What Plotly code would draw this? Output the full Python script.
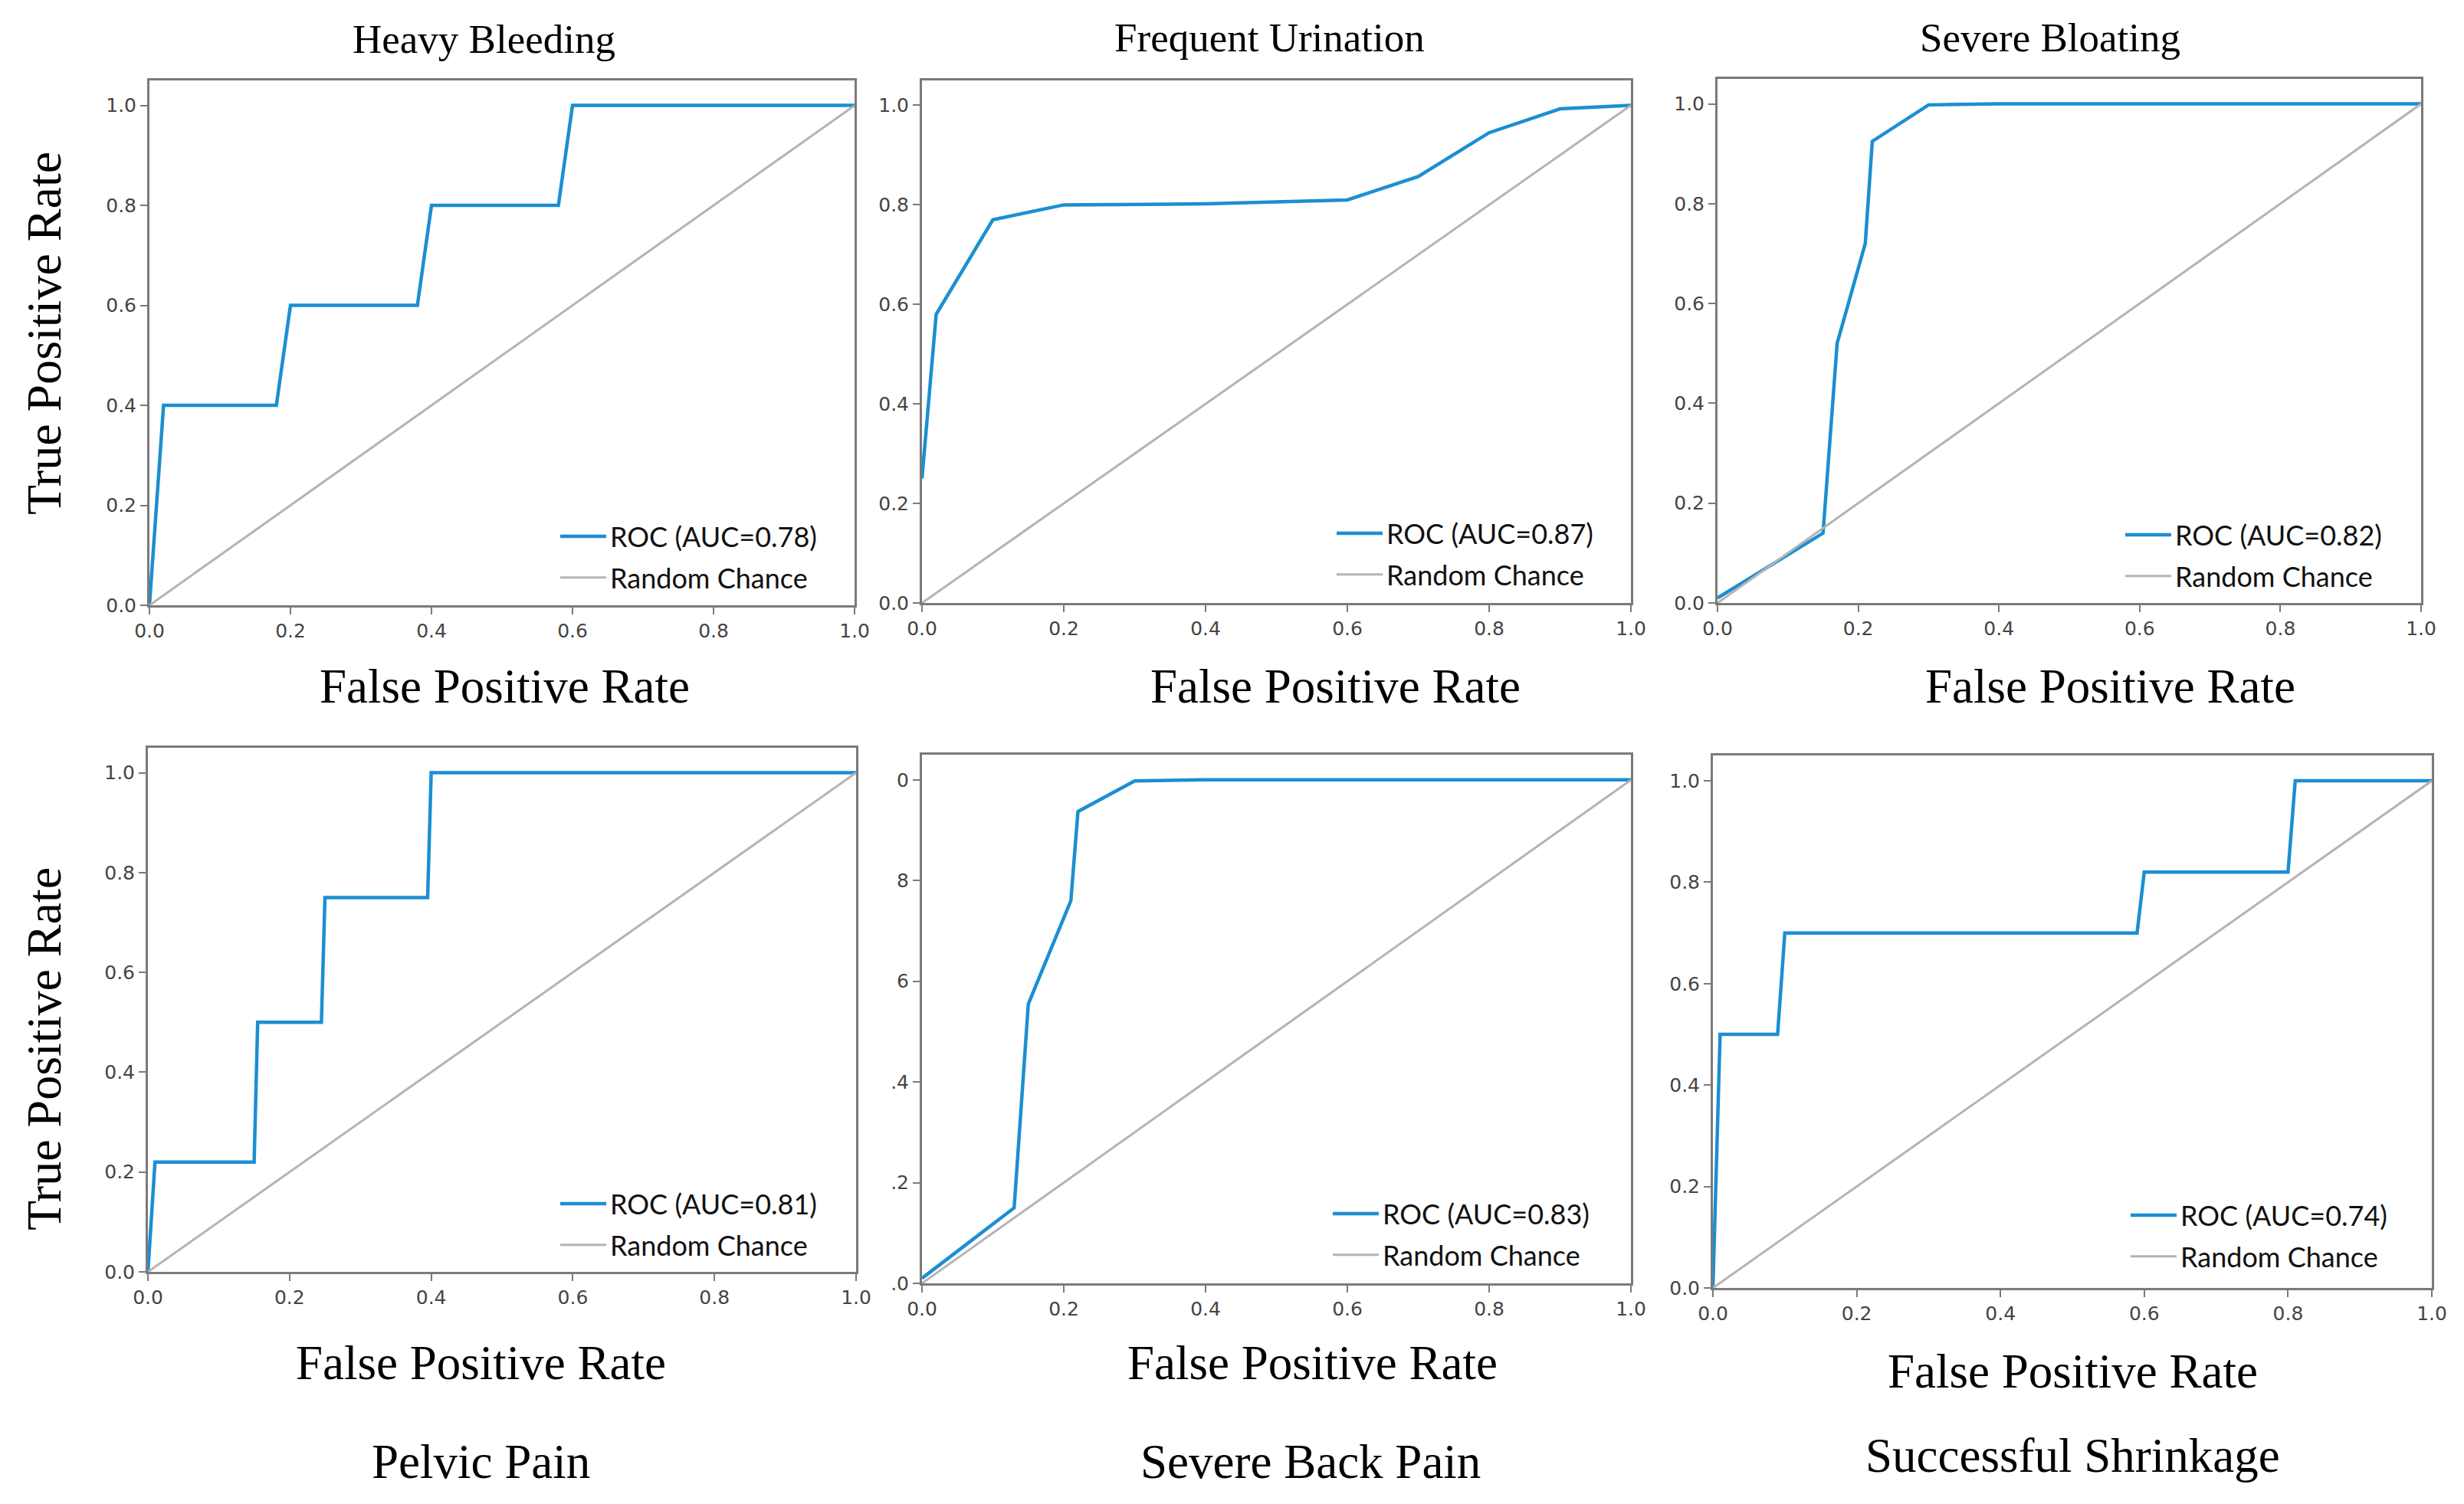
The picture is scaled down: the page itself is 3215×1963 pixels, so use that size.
import plotly.graph_objects as go

W, H = 3215, 1963
PAGE_PAD = 8  # default body margin of the html page

# ROC curves
heavy_fpr = [0.0, 0.02, 0.18, 0.20, 0.38, 0.40, 0.58, 0.60, 1.0]
heavy_tpr = [0.0, 0.40, 0.40, 0.60, 0.60, 0.80, 0.80, 1.00, 1.0]

urin_fpr = [0.0, 0.02, 0.10, 0.20, 0.40, 0.60, 0.70, 0.80, 0.90, 1.0]
urin_tpr = [0.25, 0.58, 0.77, 0.80, 0.802, 0.81, 0.857, 0.945, 0.993, 1.0]

bloat_fpr = [0.0, 0.15, 0.17, 0.21, 0.22, 0.30, 0.40, 1.0]
bloat_tpr = [0.01, 0.14, 0.52, 0.72, 0.925, 0.998, 1.0, 1.0]

pelvic_fpr = [0.0, 0.01, 0.15, 0.155, 0.245, 0.25, 0.395, 0.40, 1.0]
pelvic_tpr = [0.0, 0.22, 0.22, 0.50, 0.50, 0.75, 0.75, 1.00, 1.0]

back_fpr = [0.0, 0.13, 0.15, 0.21, 0.22, 0.30, 0.40, 1.0]
back_tpr = [0.01, 0.15, 0.555, 0.76, 0.937, 0.998, 1.0, 1.0]

shrink_fpr = [0.0, 0.01, 0.09, 0.10, 0.59, 0.60, 0.80, 0.81, 1.0]
shrink_tpr = [0.0, 0.50, 0.50, 0.70, 0.70, 0.82, 0.82, 1.00, 1.0]

chance = [0.0, 1.0]

names = ["Heavy Bleeding", "Frequent Urination", "Severe Bloating",
         "Pelvic Pain", "Severe Back Pain", "Successful Shrinkage"]
aucs = ["0.78", "0.87", "0.82", "0.81", "0.83", "0.74"]
curves = [(heavy_fpr, heavy_tpr), (urin_fpr, urin_tpr), (bloat_fpr, bloat_tpr),
          (pelvic_fpr, pelvic_tpr), (back_fpr, back_tpr), (shrink_fpr, shrink_tpr)]

tick_vals = [0.0, 0.2, 0.4, 0.6, 0.8, 1.0]
tick_text = ["0.0", "0.2", "0.4", "0.6", "0.8", "1.0"]
back_tick_text = [".0", ".2", ".4", "6", "8", "0"]  # clipped labels in the source

# plot boxes in pixels: left, top, right, bottom
boxes = [(195, 105, 1115, 790), (1203, 105, 2128, 787), (2241, 103, 3159, 787),
         (193, 976, 1117, 1660), (1203, 985, 2128, 1675), (2235, 986, 3173, 1681)]
# legend left/top in pixels
leg_pos = [(726, 670), (1739, 666), (2768, 668), (726, 1541), (1734, 1554), (2775, 1556)]

BLUE = "#1b8fd2"
GREY = "#b4b4b4"
SERIF = "Liberation Serif"


def fx(x):
    return (x - PAGE_PAD) / (W - 2 * PAGE_PAD)


def fy(y):
    return 1 - (y - PAGE_PAD) / (H - 2 * PAGE_PAD)


fig = go.Figure()
layout = dict(width=W - 2 * PAGE_PAD, height=H - 2 * PAGE_PAD, margin=dict(l=0, r=0, t=0, b=0),
              paper_bgcolor="white", plot_bgcolor="white", showlegend=True)

for i, ((fpr, tpr), auc) in enumerate(zip(curves, aucs)):
    n = i + 1
    xa = "x" if n == 1 else "x%d" % n
    ya = "y" if n == 1 else "y%d" % n
    lg = "legend" if n == 1 else "legend%d" % n
    fig.add_trace(go.Scatter(x=fpr, y=tpr, mode="lines", xaxis=xa, yaxis=ya,
                             line=dict(color=BLUE, width=4.5),
                             name="ROC (AUC=%s)" % auc, legend=lg, legendgroup="a%d" % n))
    fig.add_trace(go.Scatter(x=chance, y=chance, mode="lines", xaxis=xa, yaxis=ya,
                             line=dict(color=GREY, width=3),
                             name="Random Chance", legend=lg, legendgroup="b%d" % n))
    l, t, r, b = boxes[i]
    axis_common = dict(showline=True, mirror=True, linecolor="#7a7a7a", linewidth=3,
                       ticks="outside", ticklen=9, tickwidth=2, tickcolor="#7a7a7a",
                       showgrid=False, zeroline=False, automargin=False,
                       tickfont=dict(family="DejaVu Sans", size=25, color="#444444"))
    layout["xaxis" if n == 1 else "xaxis%d" % n] = dict(
        axis_common, domain=[fx(l), fx(r)], range=[0, 1], anchor=ya,
        tickvals=tick_vals, ticktext=tick_text)
    layout["yaxis" if n == 1 else "yaxis%d" % n] = dict(
        axis_common, domain=[fy(b), fy(t)], range=[0, 1.05], anchor=xa,
        tickvals=tick_vals, ticktext=back_tick_text if n == 5 else tick_text)
    lx, ly = leg_pos[i]
    layout[lg] = dict(x=fx(lx), y=fy(ly), xanchor="left", yanchor="top",
                      bgcolor="rgba(0,0,0,0)", tracegroupgap=4, itemwidth=60,
                      font=dict(family="Lato", size=36, color="#111"))

fig.update_layout(**layout)

annotations = []
# titles above the top row
for name, cx, cy in zip(names[:3], [631, 1657, 2675], [51, 49, 49]):
    annotations.append(dict(text=name, x=fx(cx), y=fy(cy), font=dict(family=SERIF, size=53, color="black")))
# x-axis titles
for cx, cy in zip([658, 1742, 2753, 627, 1712, 2704], [896, 896, 896, 1779, 1779, 1790]):
    annotations.append(dict(text="False Positive Rate", x=fx(cx), y=fy(cy),
                            font=dict(family=SERIF, size=63, color="black")))
# labels under the bottom row
for name, cx, cy in zip(names[3:], [627, 1710, 2704], [1908, 1908, 1900]):
    annotations.append(dict(text=name, x=fx(cx), y=fy(cy), font=dict(family=SERIF, size=63, color="black")))
# y-axis titles
for cy in [435, 1369]:
    annotations.append(dict(text="True Positive Rate", x=fx(57), y=fy(cy), textangle=-90,
                            font=dict(family=SERIF, size=64, color="black")))
for a in annotations:
    a.update(xref="paper", yref="paper", showarrow=False, xanchor="center", yanchor="middle")
fig.update_layout(annotations=annotations)

fig.write_html("out.html")
